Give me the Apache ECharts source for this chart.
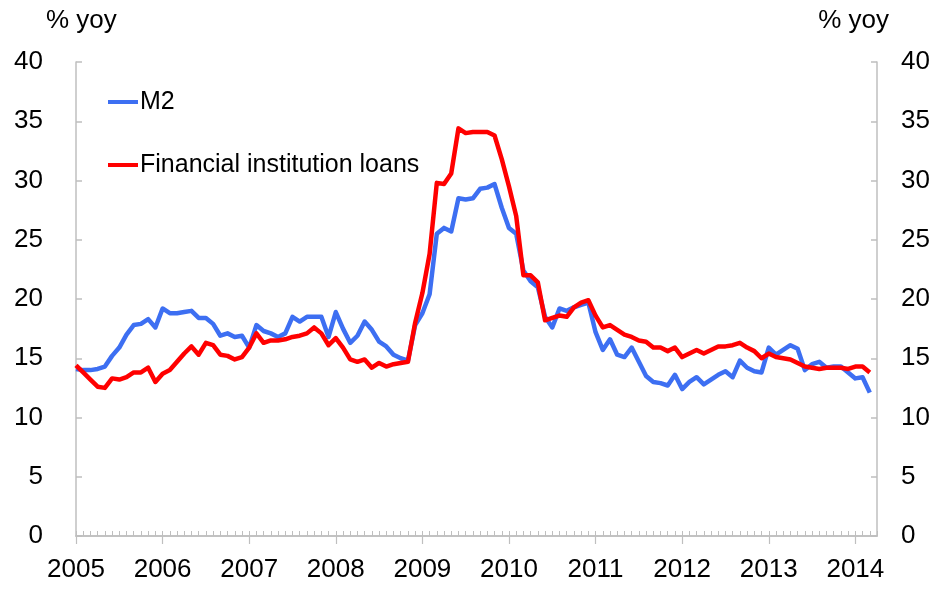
<!DOCTYPE html>
<html>
<head>
<meta charset="utf-8">
<script src="https://cdn.jsdelivr.net/npm/echarts@6/dist/echarts.min.js"></script>
<style>
html,body{margin:0;padding:0;background:#fff;}
#chart{width:937px;height:590px;}
</style>
</head>
<body>
<div id="chart"></div>
<script>
// Monthly categories Jan 2005 .. Apr 2014
const startYear = 2005;
const monthCount = 112;
const months = [];
for (let i = 0; i < monthCount; i++) {
  const y = startYear + Math.floor(i / 12);
  const m = (i % 12) + 1;
  months.push(y + '-' + (m < 10 ? '0' + m : m));
}

const yTicks = [0, 5, 10, 15, 20, 25, 30, 35, 40];

// M2, % yoy (Jan 2005 .. Mar 2014)
const m2 = [
  14.1, 14.0, 14.0, 14.1, 14.3, 15.2, 15.9, 17.0, 17.8, 17.9, 18.3, 17.6,
  19.2, 18.8, 18.8, 18.9, 19.0, 18.4, 18.4, 17.9, 16.9, 17.1, 16.8, 16.9,
  15.9, 17.8, 17.3, 17.1, 16.8, 17.1, 18.5, 18.1, 18.5, 18.5, 18.5, 16.8,
  18.9, 17.5, 16.3, 16.9, 18.1, 17.4, 16.4, 16.0, 15.3, 15.0, 14.8, 17.8,
  18.8, 20.4, 25.5, 26.0, 25.7, 28.5, 28.4, 28.5, 29.3, 29.4, 29.7, 27.7,
  26.0, 25.5, 22.4, 21.5, 21.0, 18.5, 17.6, 19.2, 19.0, 19.3, 19.5, 19.7,
  17.2, 15.7, 16.6, 15.3, 15.1, 15.9, 14.7, 13.5, 13.0, 12.9, 12.7, 13.6,
  12.4, 13.0, 13.4, 12.8, 13.2, 13.6, 13.9, 13.4, 14.8, 14.2, 13.9, 13.8,
  15.9, 15.3, 15.7, 16.1, 15.8, 14.0, 14.5, 14.7, 14.2, 14.3, 14.3, 13.8,
  13.3, 13.4, 12.1
];

// Financial institution loans, % yoy (Jan 2005 .. Mar 2014)
const loans = [
  14.4, 13.8, 13.2, 12.6, 12.5, 13.3, 13.2, 13.4, 13.8, 13.8, 14.2, 13.0,
  13.7, 14.0, 14.7, 15.4, 16.0, 15.3, 16.3, 16.1, 15.3, 15.2, 14.9, 15.1,
  15.9, 17.1, 16.3, 16.5, 16.5, 16.6, 16.8, 16.9, 17.1, 17.6, 17.1, 16.1,
  16.7, 15.9, 14.9, 14.7, 14.9, 14.2, 14.6, 14.3, 14.5, 14.6, 14.7, 18.0,
  20.5, 23.8, 29.8, 29.7, 30.6, 34.4, 34.0, 34.1, 34.1, 34.1, 33.8, 31.8,
  29.5, 27.0, 22.0, 22.0, 21.4, 18.2, 18.4, 18.6, 18.5, 19.3, 19.7, 19.9,
  18.6, 17.6, 17.8, 17.4, 17.0, 16.8, 16.5, 16.4, 15.9, 15.9, 15.6, 15.9,
  15.1, 15.4, 15.7, 15.4, 15.7, 16.0, 16.0, 16.1, 16.3, 15.9, 15.6, 15.0,
  15.4, 15.1, 15.0, 14.9, 14.6, 14.3, 14.2, 14.1, 14.2, 14.2, 14.2, 14.1,
  14.3, 14.3, 13.8
];

const seriesNames = ['M2', 'Financial institution loans'];
const unitLabel = '% yoy';

const FONT = 'Liberation Sans, Arial, sans-serif';
const AXIS_COLOR = '#bfbfbf';
const isJan = (i, v) => typeof v === 'string' ? v.slice(5) === '01' : months[i].slice(5) === '01';

const chart = echarts.init(document.getElementById('chart'));
const yAxisBase = {
  type: 'value', min: 0, max: 40, interval: 5,
  splitLine: { show: false },
  axisLine: { show: true, lineStyle: { color: AXIS_COLOR, width: 1.5 } },
  axisTick: { show: true, inside: true, length: 6, lineStyle: { color: AXIS_COLOR, width: 1.5 } },
  axisLabel: { color: '#000', fontSize: 26, fontFamily: FONT }
};
chart.setOption({
  animation: false,
  backgroundColor: '#fff',
  grid: { left: 76, right: 60, top: 62, bottom: 54, containLabel: false },
  legend: {
    orient: 'vertical',
    left: 103, top: 82,
    itemWidth: 30, itemHeight: 4, itemGap: 33,
    icon: 'rect',
    textStyle: { color: '#000', fontSize: 25, fontFamily: FONT, lineHeight: 30, padding: [0, 0, 0, -3] },
    data: seriesNames
  },
  graphic: [
    { type: 'text', left: 46, top: 8, style: { text: unitLabel, fill: '#000', font: '26px ' + FONT } },
    { type: 'text', right: 48, top: 8, style: { text: unitLabel, fill: '#000', font: '26px ' + FONT } }
  ],
  xAxis: [
    {
      type: 'category', data: months, boundaryGap: false, position: 'bottom',
      axisLine: { show: true, lineStyle: { color: AXIS_COLOR, width: 1.5 } },
      axisTick: { show: true, inside: true, length: 5, interval: 0, lineStyle: { color: AXIS_COLOR, width: 1 } },
      axisLabel: { show: false },
      splitLine: { show: false }
    },
    {
      type: 'category', data: months, boundaryGap: false, position: 'bottom',
      axisLine: { show: true, lineStyle: { color: AXIS_COLOR, width: 1.5 } },
      axisTick: { show: true, inside: false, length: 8, interval: isJan, lineStyle: { color: AXIS_COLOR, width: 1.2 } },
      axisLabel: {
        interval: isJan, margin: 21, color: '#000', fontSize: 26, fontFamily: FONT,
        formatter: v => v.slice(0, 4)
      },
      splitLine: { show: false }
    }
  ],
  yAxis: [
    Object.assign({}, yAxisBase, { position: 'left', axisLabel: Object.assign({}, yAxisBase.axisLabel, { margin: 33 }) }),
    Object.assign({}, yAxisBase, { position: 'right', axisLabel: Object.assign({}, yAxisBase.axisLabel, { margin: 24 }) })
  ],
  series: [
    {
      name: seriesNames[0], type: 'line', data: m2, xAxisIndex: 0, yAxisIndex: 0,
      showSymbol: false, symbol: 'none', color: '#3d6ff2',
      lineStyle: { width: 4.5, color: '#3d6ff2', join: 'round' }
    },
    {
      name: seriesNames[1], type: 'line', data: loans, xAxisIndex: 0, yAxisIndex: 0,
      showSymbol: false, symbol: 'none', color: '#ff0000',
      lineStyle: { width: 4.5, color: '#ff0000', join: 'round' }
    }
  ]
});
</script>
</body>
</html>
